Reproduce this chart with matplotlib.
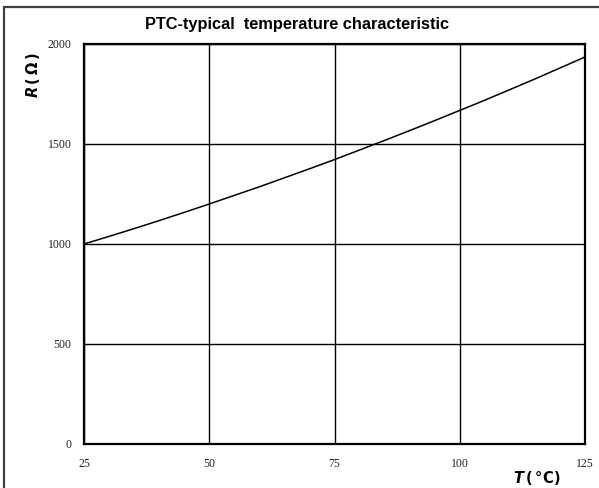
import matplotlib
matplotlib.use("Agg")
import matplotlib.pyplot as plt
from matplotlib.patches import Rectangle

# temperature sweep (degC) and measured resistance (ohm)
temp_c = [25, 30, 35, 40, 45, 50, 55, 60, 65, 70, 75,
          80, 85, 90, 95, 100, 105, 110, 115, 120, 125]
res_ohm = [1000, 1038, 1077, 1117, 1158, 1200, 1243, 1286, 1331, 1376, 1422,
           1470, 1518, 1567, 1617, 1668, 1719, 1772, 1825, 1880, 1935]

x_ticks = [25, 50, 75, 100, 125]
y_ticks = [0, 500, 1000, 1500, 2000]

W, H = 599, 488
fig = plt.figure(figsize=(W / 100, H / 100), dpi=100)

# plot area in pixels: left 84, right 585, top 44, bottom 444
ax = fig.add_axes([84 / W, 1 - 444 / H, (585 - 84) / W, (444 - 44) / H])
ax.plot(temp_c, res_ohm, color="black", lw=1.1)

ax.set_xlim(25, 125)
ax.set_ylim(0, 2000)
ax.set_xticks(x_ticks)
ax.set_yticks(y_ticks)
ax.grid(True, color="black", lw=1.0)
ax.tick_params(length=0, labelsize=8.5, labelcolor="#222222")
ax.tick_params(axis="y", pad=9)
ax.tick_params(axis="x", pad=10)
for lbl in ax.get_xticklabels() + ax.get_yticklabels():
    lbl.set_family("Liberation Serif")
for sp in ax.spines.values():
    sp.set_linewidth(1.6)
    sp.set_color("black")

# outer frame around the whole chart
frame = Rectangle((3.5 / W, -0.05), 1.2, 1 - 7 / H + 0.05, transform=fig.transFigure,
                  fill=False, edgecolor="#404040", lw=1.6, clip_on=False)
fig.patches.append(frame)

fig.text(297 / W, 1 - 25 / H, "PTC-typical  temperature characteristic",
         ha="center", va="center", fontsize=11.8, fontweight="bold",
         family="Liberation Sans")

fig.text(33 / W, 1 - 75 / H, "$\\mathbfit{R}\\,$(\u2009Ω\u2009)", rotation=90,
         ha="center", va="center", fontsize=10.5, fontweight="bold",
         family="DejaVu Sans")
fig.text(537 / W, 1 - 478 / H, "$\\mathbfit{T}\\,$(\u2009°C)",
         ha="center", va="center", fontsize=10.5, fontweight="bold",
         family="DejaVu Sans")

fig.savefig("out.png", dpi=100)
